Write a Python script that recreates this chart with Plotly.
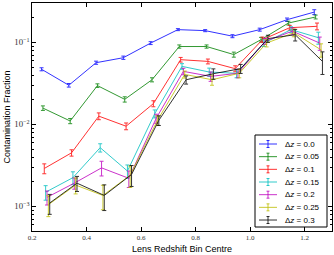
import plotly.graph_objects as go

bins = [0.25, 0.35, 0.45, 0.55, 0.65, 0.75, 0.85, 0.95, 1.05, 1.15, 1.25]
labels = ["0.0", "0.05", "0.1", "0.15", "0.2", "0.25", "0.3"]
offsets = [-0.015, -0.01, -0.005, 0.0, 0.005, 0.01, 0.015]
colors = ["#0000ff", "#008000", "#ff0000", "#00bfbf", "#bf00bf", "#bfbf00", "#000000"]

frac_00 = [0.047, 0.030, 0.0565, 0.065, 0.098, 0.143, 0.139, 0.119, 0.143, 0.189, 0.234]
frac_05 = [0.0158, 0.011, 0.0297, 0.0202, 0.035, 0.089, 0.089, 0.071, 0.108, 0.172, 0.204]
frac_10 = [0.0029, 0.0045, 0.0126, 0.0095, 0.0179, 0.0615, 0.0586, 0.0478, 0.108, 0.151, 0.157]
frac_15 = [0.00149, 0.00224, 0.0052, 0.0027, 0.0135, 0.051, 0.0435, 0.042, 0.098, 0.143, 0.114]
frac_20 = [0.00129, 0.00192, 0.00295, 0.0022, 0.0118, 0.0443, 0.0385, 0.042, 0.103, 0.137, 0.098]
frac_25 = [0.00105, 0.00182, 0.00136, 0.0024, 0.0112, 0.0407, 0.035, 0.042, 0.098, 0.131, 0.081]
frac_30 = [0.0011, 0.00192, 0.00136, 0.00245, 0.0112, 0.035, 0.0415, 0.0478, 0.111, 0.124, 0.0586]

err_00 = [0.002, 0.0015, 0.0025, 0.003, 0.004, 0.004, 0.004, 0.005, 0.006, 0.009, 0.016]
err_05 = [0.001, 0.0008, 0.0015, 0.0015, 0.002, 0.004, 0.004, 0.005, 0.007, 0.009, 0.011]
err_10 = [0.0004, 0.0004, 0.0012, 0.0009, 0.0015, 0.004, 0.004, 0.004, 0.008, 0.01, 0.015]
err_15 = [0.0003, 0.0004, 0.0006, 0.0005, 0.0015, 0.004, 0.005, 0.005, 0.009, 0.012, 0.019]
err_20 = [0.00025, 0.0003, 0.0006, 0.0005, 0.0015, 0.004, 0.005, 0.005, 0.009, 0.013, 0.018]
err_25 = [0.0003, 0.0004, 0.00045, 0.0007, 0.0015, 0.004, 0.005, 0.005, 0.01, 0.014, 0.015]
err_30 = [0.0003, 0.0004, 0.00047, 0.0007, 0.0015, 0.004, 0.006, 0.006, 0.011, 0.02, 0.018]

fracs = [frac_00, frac_05, frac_10, frac_15, frac_20, frac_25, frac_30]
errs = [err_00, err_05, err_10, err_15, err_20, err_25, err_30]

W, H = 334, 255
ML, MR, MT, MB = 32, 2, 3, 24
PW, PH = W - ML - MR, H - MT - MB


def px(x):
    return (x - ML) / PW


def py(y):
    return (H - MB - y) / PH


fig = go.Figure()
for lab, off, col, f, e in zip(labels, offsets, colors, fracs, errs):
    fig.add_trace(go.Scatter(
        x=[b + off for b in bins], y=f, mode="lines",
        name="\u0394<i>z</i> = " + lab, showlegend=False,
        line=dict(color=col, width=1), opacity=0.8,
        error_y=dict(type="data", array=e, color=col, thickness=1, width=2),
    ))

# custom legend (compact, matplotlib-like)
shapes = [dict(type="rect", xref="paper", yref="paper",
               x0=px(255), x1=px(327), y0=py(227), y1=py(135),
               line=dict(color="black", width=1), fillcolor="white", layer="above")]
annotations = []
for i, (lab, col) in enumerate(zip(labels, colors)):
    yc = 144 + 12.67 * i
    shapes.append(dict(type="line", xref="paper", yref="paper", x0=px(259), x1=px(277),
                       y0=py(yc), y1=py(yc), line=dict(color=col, width=1), opacity=0.8, layer="above"))
    shapes.append(dict(type="line", xref="paper", yref="paper", x0=px(268), x1=px(268),
                       y0=py(yc - 3.5), y1=py(yc + 3.5), line=dict(color=col, width=1), opacity=0.8, layer="above"))
    for dy in (-3.5, 3.5):
        shapes.append(dict(type="line", xref="paper", yref="paper", x0=px(266.5), x1=px(269.5),
                           y0=py(yc + dy), y1=py(yc + dy), line=dict(color=col, width=1), opacity=0.8, layer="above"))
    annotations.append(dict(xref="paper", yref="paper", x=px(283), y=py(yc), xanchor="left", yanchor="middle",
                            text="\u0394<i>z</i> = " + lab, showarrow=False,
                            font=dict(size=8, family="Liberation Sans", color="black")))

axis_common = dict(showline=True, linecolor="black", linewidth=1, mirror="ticks",
                   ticks="inside", ticklen=4, tickcolor="black", showgrid=False, zeroline=False,
                   tickfont=dict(family="Liberation Serif", size=7, color="#333"))

fig.update_layout(
    width=W, height=H,
    margin=dict(l=ML, r=MR, t=MT, b=MB),
    paper_bgcolor="white", plot_bgcolor="white",
    font=dict(family="Liberation Sans", color="black"),
    xaxis=dict(range=[0.2, 1.3], tickvals=[0.2, 0.4, 0.6, 0.8, 1.0, 1.2],
               ticktext=["0.2", "0.4", "0.6", "0.8", "1.0", "1.2"],
               title=dict(text="Lens Redshift Bin Centre", font=dict(size=9, family="Liberation Sans"), standoff=4),
               **axis_common),
    yaxis=dict(type="log", range=[-3.3, -0.52], dtick=1, exponentformat="power",
               minor=dict(ticks="inside", ticklen=2, dtick="D1", tickcolor="black"),
               title=dict(text="Contamination Fraction", font=dict(size=9, family="Liberation Sans"), standoff=2),
               **axis_common),
    shapes=shapes, annotations=annotations,
    showlegend=False,
)

fig.write_html("out.html", config={"displayModeBar": False},
               post_script="document.body.style.margin='0';document.body.style.overflow='hidden';")
